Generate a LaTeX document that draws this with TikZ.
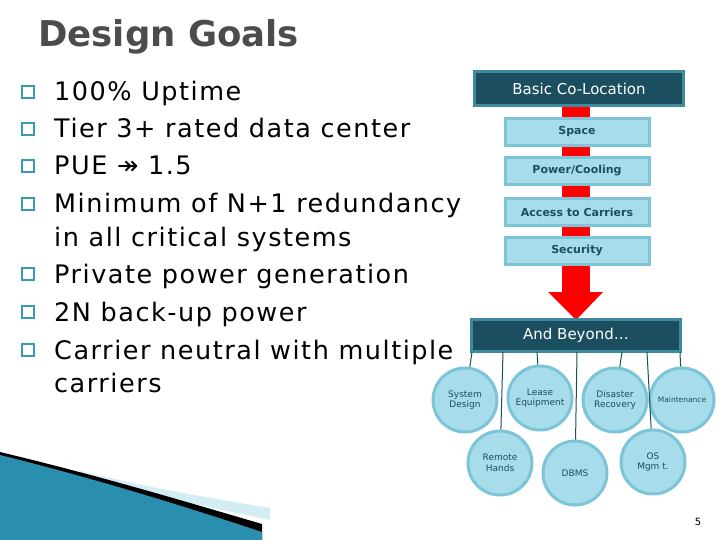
\documentclass[tikz,border=0pt]{standalone}
\usepackage{fontspec}
\setmainfont{DejaVu Sans}
\newfontfamily\arrowfont{DejaVu Sans}
\newfontfamily\goalfont[LetterSpace=6]{DejaVu Sans}
\definecolor{dteal}{HTML}{1B4F5F}
\definecolor{tealbord}{HTML}{3E8A9E}
\definecolor{lblue}{HTML}{A7DCEA}
\definecolor{lbord}{HTML}{7CC5D9}
\definecolor{btxt}{HTML}{1B4F5F}
\definecolor{bull}{HTML}{3A9AB0}
\definecolor{wave}{HTML}{2A8FAE}
\tikzset{
 darkbox/.style={draw=tealbord,line width=3pt,fill=dteal,text=white,minimum width=209pt,inner sep=0pt},
 lightbox/.style={draw=lbord,line width=3pt,fill=lblue,text=btxt,minimum width=144pt,minimum height=27pt,font=\bfseries\fontsize{11}{12}\selectfont,inner sep=0pt},
 circ/.style={circle,draw=lbord,line width=3pt,fill=lblue,minimum size=64pt,inner sep=0pt,align=center,font=\fontsize{9}{10.5}\selectfont,text=btxt},
 link/.style={draw=dteal,line width=1pt},
 goal/.style={anchor=base west,inner sep=0pt,font=\goalfont\fontsize{25.5}{27}\selectfont},
 bsq/.style={draw=bull,line width=1.3pt}
}
\begin{document}
\begin{tikzpicture}[x=1pt,y=-1pt]
\useasboundingbox (0,0) rectangle (720,540);
% wave
\fill[lblue!50] (80,471) .. controls (150,488) and (210,498) .. (270,508) -- (270,520) -- (80,480) -- cycle;
\fill[black] (0,452) .. controls (100,476) and (180,500) .. (262,524) -- (262,540) -- (0,540) -- cycle;
\fill[wave] (0,455) .. controls (100,480) and (180,505) .. (262,532) -- (262,540) -- (0,540) -- cycle;
% title
\node[anchor=base west,inner sep=0pt,text=black!70,font=\bfseries\fontsize{35.5}{37}\selectfont] (title) at (38,47) {Design Goals};
% goals
\foreach \y/\t [count=\i] in {101/100\% Uptime,138/Tier 3+ rated data center,175/PUE {\arrowfont ↠} 1.5,213/Minimum of N+1 redundancy,283/Private power generation,321/2N back-up power,359/Carrier neutral with multiple}{
 \draw[bsq] (22,\y-15) rectangle (34,\y-3);
 \node[goal] (g\i) at (54,\y) {\t};
}
\node[goal] (g8) at (54,246) {in all critical systems};
\node[goal] (g9) at (54,392) {carriers};
% red arrow
\fill[red] (562,100) rectangle (590,295);
\fill[red] (548,292) -- (603,292) -- (576,320) -- cycle;
% boxes
\node[darkbox,minimum height=34pt,font=\fontsize{15}{16}\selectfont] (basic) at (579,89) {Basic Co-Location};
\node[lightbox] (space) at (577,132) {Space};
\node[lightbox] (power) at (577,171) {Power/Cooling};
\node[lightbox] (access) at (577,212) {Access to Carriers};
\node[lightbox] (sec) at (577,251) {Security};
\node[darkbox,minimum height=32pt,font=\fontsize{15}{16}\selectfont] (beyond) at (576,335) {And Beyond\ldots};
% circles
\node[circ] (sys) at (465,400) {System\\Design};
\node[circ] (lease) at (540,398) {Lease\\Equipment};
\node[circ] (dis) at (615,400) {Disaster\\Recovery};
\node[circ,font=\fontsize{7.5}{9}\selectfont] (maint) at (682,400) {Maintenance};
\node[circ] (rem) at (500,463) {Remote\\Hands};
\node[circ] (dbms) at (575,473) {DBMS};
\node[circ] (os) at (653,462) {OS\\Mgm t.};
\coordinate (c1) at (472,352); \coordinate (c2) at (503,352); \coordinate (c3) at (537,352);
\coordinate (c4) at (577,352); \coordinate (c5) at (622,352); \coordinate (c6) at (647,352);
\coordinate (c7) at (680,352);
\draw[link] (c1) -- (sys);
\draw[link] (c2) -- (rem);
\draw[link] (c3) -- (lease);
\draw[link] (c4) -- (dbms);
\draw[link] (c5) -- (dis);
\draw[link] (c6) -- (os);
\draw[link] (c7) -- (maint);
\node[font=\fontsize{10}{11}\selectfont] (pg) at (698,522) {5};
\end{tikzpicture}
\end{document}
